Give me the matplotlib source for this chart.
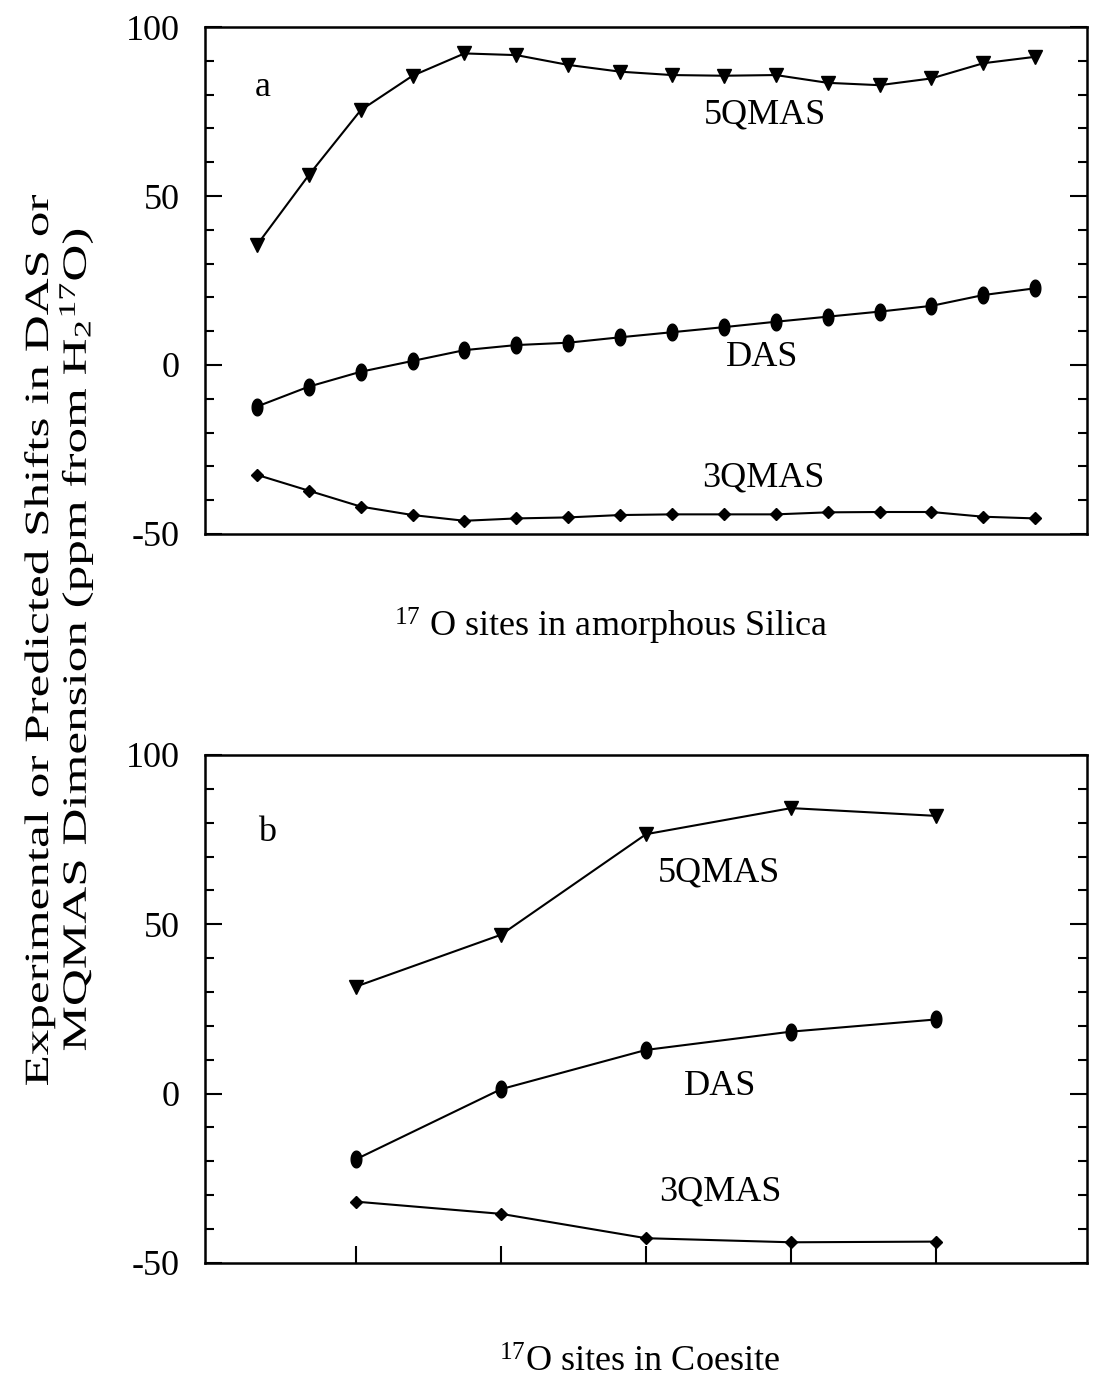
import matplotlib
matplotlib.use("Agg")
import matplotlib.pyplot as plt
import numpy as np
from matplotlib.path import Path
from matplotlib.ticker import MultipleLocator, FixedLocator
from matplotlib.textpath import TextPath
from matplotlib.font_manager import FontProperties
from matplotlib.patches import PathPatch
from matplotlib.transforms import Affine2D

plt.rcParams['font.family'] = ['Liberation Serif', 'DejaVu Serif']
plt.rcParams['mathtext.fontset'] = 'custom'
plt.rcParams['mathtext.rm'] = 'Liberation Serif'
plt.rcParams['mathtext.it'] = 'Liberation Serif:italic'
plt.rcParams['axes.unicode_minus'] = False

# panel a: 17O sites in amorphous silica
sites_a = np.arange(1, 17)
qmas5_a = [35.5, 56.2, 75.4, 85.6, 92.2, 91.7, 88.8, 86.8, 85.8, 85.6, 85.8, 83.5, 82.8, 84.8, 89.3, 91.2]
das_a = [-12.3, -6.4, -2.0, 1.2, 4.4, 5.9, 6.6, 8.2, 9.7, 11.2, 12.8, 14.3, 15.8, 17.5, 20.7, 22.7]
qmas3_a = [-32.5, -37.2, -41.9, -44.4, -46.1, -45.4, -45.1, -44.4, -44.2, -44.2, -44.2, -43.6, -43.5, -43.5, -44.9, -45.4]

# panel b: 17O sites in coesite
sites_b = np.arange(1, 6)
qmas5_b = [31.6, 46.9, 76.6, 84.3, 82.0]
das_b = [-19.4, 1.3, 12.9, 18.3, 21.9]
qmas3_b = [-31.9, -35.5, -42.7, -43.9, -43.7]

ylabel_lines = ['Experimental or Predicted Shifts in DAS or',
                r'MQMAS Dimension (ppm from H$_2$$^{17}$O)']

# tall ellipse marker for DAS points
t = np.linspace(0, 2*np.pi, 40)
oval = Path(np.column_stack([0.32*np.cos(t), 0.5*np.sin(t)]), closed=True)

fig = plt.figure(figsize=(10.93, 13.88), dpi=100)
ax1 = fig.add_axes([0.1876, 0.6153, 0.807, 0.3652])
ax2 = fig.add_axes([0.1876, 0.0901, 0.807, 0.366])

def style(ax):
    ax.set_ylim(-50, 100)
    ax.yaxis.set_major_locator(FixedLocator([-50, 0, 50, 100]))
    ax.yaxis.set_minor_locator(MultipleLocator(10))
    ax.set_yticklabels(['-50', '0', '50', '100'])
    ax.tick_params(axis='y', which='both', direction='in', left=True, right=True, width=1.5)
    ax.tick_params(axis='y', which='major', length=12, labelsize=26, pad=18)
    ax.tick_params(axis='y', which='minor', length=6.5)
    for s in ax.spines.values():
        s.set_linewidth(1.8)

lw = 1.5
ax1.plot(sites_a, qmas5_a, color='black', lw=lw, marker='v', ms=10)
ax1.plot(sites_a, das_a, color='black', lw=lw, marker=oval, ms=12)
ax1.plot(sites_a, qmas3_a, color='black', lw=lw, marker='D', ms=6)
ax1.set_xlim(0, 17)
ax1.set_xticks([])
style(ax1)
ax1.text(1.12, 82, 'a', fontsize=26, ha='center', va='center')
ax1.text(10.79, 74, '5QMAS', fontsize=26, ha='center', va='center')
ax1.text(10.73, 2.1, 'DAS', fontsize=26, ha='center', va='center')
ax1.text(10.75, -33.4, '3QMAS', fontsize=26, ha='center', va='center')

ax2.plot(sites_b, qmas5_b, color='black', lw=lw, marker='v', ms=10)
ax2.plot(sites_b, das_b, color='black', lw=lw, marker=oval, ms=12)
ax2.plot(sites_b, qmas3_b, color='black', lw=lw, marker='D', ms=6)
ax2.set_xlim(-0.04, 6.04)
ax2.set_xticks(sites_b)
ax2.set_xticklabels([])
ax2.tick_params(axis='x', direction='in', length=12, width=1.5, bottom=True, top=False)
style(ax2)
ax2.text(0.386, 77, 'b', fontsize=26, ha='center', va='center')
ax2.text(3.50, 65.2, '5QMAS', fontsize=26, ha='center', va='center')
ax2.text(3.51, 2.0, 'DAS', fontsize=26, ha='center', va='center')
ax2.text(3.51, -29, '3QMAS', fontsize=26, ha='center', va='center')

fig.text(611/1093, 1 - 626/1388, r'$\mathrm{^{17}}$ O sites in amorphous Silica', fontsize=26, ha='center', va='center')
fig.text(640/1093, 1 - 1363/1388, r'$\mathrm{^{17}}$O sites in Coesite', fontsize=26, ha='center', va='center')

# y label: the original is drawn stretched along its length, so build it from text paths
prop = FontProperties(family='Liberation Serif')
em = 34.0
paths = [TextPath((0, 0), s, size=em, prop=prop) for s in ylabel_lines]
stretch = 890.0 / paths[0].get_extents().width
center_y = 1388 - 640
baselines_x = [48, 86]
for tp, bx in zip(paths, baselines_x):
    ext = tp.get_extents()
    tr = (Affine2D().translate(-(ext.x0 + ext.x1) / 2, 0)
          .scale(stretch, 1.0).rotate_deg(90).translate(bx, center_y))
    fig.add_artist(PathPatch(tp, transform=tr, facecolor='black', edgecolor='none'))

fig.savefig('out.png', dpi=100)
